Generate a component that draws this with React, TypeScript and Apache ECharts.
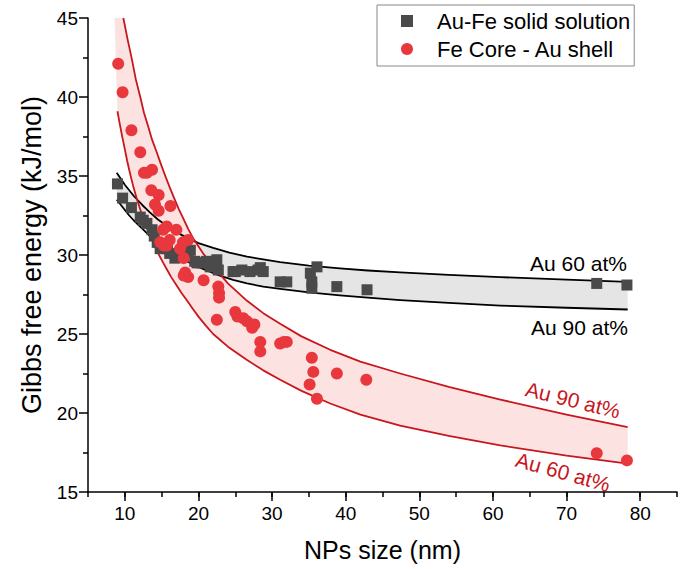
import React, { useEffect, useRef } from "react";
import * as echarts from "echarts";

const FONT = "'Liberation Sans', Arial, sans-serif";

// Au-Fe solid solution (squares)
const solidX = [9.0, 9.7, 10.9, 12.1, 12.5, 13.0, 13.7, 14.0, 14.4, 14.8, 15.3, 15.8, 16.1, 16.8, 17.0, 18.6, 18.9, 19.5, 19.8, 20.4, 21.1, 21.6, 22.5, 22.7, 24.7, 25.0, 25.9, 27.0, 28.1, 28.4, 28.8, 31.1, 32.0, 35.2, 35.4, 35.4, 36.1, 38.8, 42.9, 74.1, 78.2];
const solidY = [34.5, 33.6, 33.0, 32.4, 32.2, 32.0, 31.6, 31.2, 30.8, 30.4, 30.6, 30.4, 30.1, 29.8, 29.9, 30.1, 30.3, 29.6, 29.5, 29.5, 29.6, 29.25, 29.7, 29.05, 28.95, 28.95, 29.05, 28.95, 29.05, 29.2, 28.95, 28.3, 28.3, 28.85, 28.3, 27.9, 29.25, 28.0, 27.8, 28.2, 28.1];

// Fe Core - Au shell (circles)
const coreX = [9.1, 9.7, 10.9, 12.1, 12.6, 13.0, 13.7, 13.6, 14.6, 14.1, 14.6, 16.2, 15.2, 15.7, 17.0, 14.8, 15.3, 15.7, 16.1, 17.5, 17.9, 18.6, 18.0, 18.2, 18.6, 18.0, 20.7, 22.7, 22.8, 22.8, 22.5, 25.0, 25.3, 26.1, 26.6, 27.3, 27.6, 28.4, 28.4, 31.1, 31.6, 32.0, 35.4, 35.6, 35.1, 36.1, 38.8, 42.8, 74.1, 78.2];
const coreY = [42.1, 40.3, 37.9, 36.5, 35.2, 35.2, 35.4, 34.1, 33.8, 33.2, 32.8, 33.1, 31.6, 31.8, 31.6, 30.8, 30.6, 30.6, 30.95, 30.4, 30.8, 30.95, 29.8, 28.9, 28.6, 28.7, 28.4, 28.0, 27.6, 27.3, 25.9, 26.4, 26.1, 26.0, 25.8, 25.4, 25.6, 24.5, 23.9, 24.4, 24.5, 24.5, 23.5, 22.6, 21.8, 20.9, 22.5, 22.1, 17.45, 17.0];

// Black model curves (solid solution): Au 60 at% (upper), Au 90 at% (lower)
const blackUpX = [8.9, 9.5, 10.0, 10.6, 11.2, 11.8, 12.4, 13.4, 14.5, 15.7, 17.0, 18.4, 20.0, 22.0, 24.2, 26.6, 28.8, 31.1, 35.0, 39.2, 43.0, 47.4, 54.0, 61.0, 70.0, 78.3];
const blackUpY = [35.2, 34.8, 34.45, 34.1, 33.75, 33.45, 33.15, 32.7, 32.25, 31.85, 31.45, 31.1, 30.75, 30.45, 30.15, 29.9, 29.72, 29.55, 29.33, 29.15, 29.02, 28.9, 28.74, 28.6, 28.44, 28.3];
const blackLoX = [8.9, 9.5, 10.0, 10.6, 11.2, 11.8, 12.4, 13.4, 14.5, 15.7, 17.0, 18.0, 20.2, 22.9, 24.7, 26.6, 28.8, 31.1, 35.0, 39.2, 43.0, 47.4, 54.0, 61.0, 70.0, 78.3];
const blackLoY = [33.5, 33.15, 32.85, 32.5, 32.2, 31.92, 31.65, 31.2, 30.75, 30.35, 29.95, 29.7, 29.2, 28.7, 28.43, 28.2, 28.0, 27.85, 27.63, 27.45, 27.3, 27.15, 26.97, 26.8, 26.66, 26.55];

// Red model curves (core-shell): Au 90 at% (upper), Au 60 at% (lower)
const redUpX = [9.8, 10.4, 11.0, 11.5, 12.1, 12.6, 13.2, 13.7, 14.3, 14.9, 15.5, 16.1, 16.7, 17.3, 18.0, 18.6, 19.3, 20.6, 22.0, 24.0, 26.6, 28.8, 31.1, 34.0, 37.9, 42.0, 47.4, 54.0, 61.0, 70.0, 78.3];
const redUpY = [45.0, 43.6, 42.3, 41.1, 40.0, 39.0, 38.1, 37.3, 36.55, 35.75, 35.0, 34.28, 33.6, 32.93, 32.25, 31.65, 31.05, 30.12, 29.3, 28.2, 27.1, 26.32, 25.65, 24.85, 24.0, 23.25, 22.5, 21.65, 20.85, 19.9, 19.1];
const redLoX = [9.0, 9.3, 9.6, 10.0, 10.3, 10.6, 10.9, 11.2, 11.6, 12.1, 12.6, 13.1, 13.7, 14.2, 14.7, 15.2, 15.7, 16.3, 17.0, 17.7, 18.4, 19.2, 20.0, 21.0, 22.0, 24.0, 26.6, 28.8, 31.1, 34.0, 37.9, 42.0, 47.4, 54.0, 61.0, 70.0, 78.3];
const redLoY = [39.1, 38.33, 37.6, 36.7, 36.0, 35.38, 34.8, 34.25, 33.6, 32.88, 32.2, 31.6, 30.95, 30.44, 29.95, 29.52, 29.1, 28.6, 28.1, 27.6, 27.15, 26.62, 26.1, 25.53, 25.0, 24.2, 23.35, 22.7, 22.1, 21.4, 20.6, 19.9, 19.2, 18.55, 17.95, 17.3, 16.8];
const redFillCorner = [8.6, 45.0];

const xMajorTicks = [10, 20, 30, 40, 50, 60, 70, 80];

const zip = (xs: number[], ys: number[]) => xs.map((x, i) => [x, ys[i]]);

export default function App() {
  const ref = useRef<HTMLDivElement>(null);
  useEffect(() => {
    const chart = echarts.init(ref.current!, null, { renderer: "svg" });
    const grayBand = [...zip(blackUpX, blackUpY), ...zip(blackLoX, blackLoY).reverse()];
    const redBand = [...zip(redUpX, redUpY), ...zip(redLoX, redLoY).reverse(), redFillCorner];
    const bandSeries = (pts: number[][], fill: string) => ({
      type: "custom",
      silent: true,
      z: 1,
      clip: true,
      data: [[40, 30]],
      renderItem: (_p: any, api: any) => ({
        type: "polygon",
        shape: { points: pts.map((p) => api.coord(p)) },
        style: { fill, stroke: "none" },
      }),
    });
    const curve = (xs: number[], ys: number[], color: string) => ({
      type: "line",
      data: zip(xs, ys),
      smooth: false,
      showSymbol: false,
      symbol: "none",
      silent: true,
      z: 2,
      lineStyle: { color, width: 1.8, join: "round" },
    });
    const axisLineStyle = { color: "#000", width: 1.5 };
    chart.setOption({
      animation: false,
      backgroundColor: "#fff",
      textStyle: { fontFamily: FONT },
      grid: { left: 88, right: 6, top: 18, bottom: 77, containLabel: false },
      legend: {
        data: ["Au-Fe solid solution", "Fe Core - Au shell"],
        orient: "vertical",
        left: 377,
        top: 5,
        padding: [5, 4, 6, 24],
        itemGap: 6,
        itemWidth: 12,
        itemHeight: 12,
        borderColor: "#888",
        borderWidth: 1,
        textStyle: { fontSize: 22, color: "#000", fontFamily: FONT, padding: [0, 0, 0, 19] },
      },
      xAxis: [
        {
          type: "value",
          min: 5,
          max: 85,
          interval: 5,
          position: "bottom",
          axisLine: { show: true, lineStyle: axisLineStyle },
          axisTick: { show: true, length: 5, lineStyle: axisLineStyle },
          axisLabel: { show: false },
          splitLine: { show: false },
          name: "NPs size (nm)",
          nameLocation: "middle",
          nameGap: 45,
          nameTextStyle: { fontSize: 25, color: "#000", fontFamily: FONT },
        },
        {
          type: "value",
          min: 5,
          max: 85,
          position: "bottom",
          offset: 0,
          axisLine: { show: false },
          axisTick: { show: true, length: 9, customValues: xMajorTicks, lineStyle: axisLineStyle },
          axisLabel: { show: true, customValues: xMajorTicks, fontSize: 19, color: "#000", margin: 12, fontFamily: FONT },
          splitLine: { show: false },
        },
      ],
      yAxis: {
        type: "value",
        min: 15,
        max: 45,
        interval: 5,
        axisLine: { show: true, lineStyle: axisLineStyle },
        axisTick: { show: true, length: 9, lineStyle: axisLineStyle },
        minorTick: { show: true, splitNumber: 2, length: 5, lineStyle: axisLineStyle },
        axisLabel: { fontSize: 19, color: "#000", margin: 10, fontFamily: FONT },
        splitLine: { show: false },
        name: "Gibbs free energy (kJ/mol)",
        nameLocation: "middle",
        nameGap: 42,
        nameTextStyle: { fontSize: 27, color: "#000", fontFamily: FONT },
      },
      series: [
        bandSeries(grayBand, "#e5e5e5"),
        bandSeries(redBand, "#fde2e2"),
        curve(blackUpX, blackUpY, "#000"),
        curve(blackLoX, blackLoY, "#000"),
        curve(redUpX, redUpY, "#c8161d"),
        curve(redLoX, redLoY, "#c8161d"),
        {
          name: "Au-Fe solid solution",
          type: "scatter",
          symbol: "rect",
          symbolSize: 11,
          z: 3,
          itemStyle: { color: "#4a4a4a", opacity: 1 },
          data: zip(solidX, solidY),
        },
        {
          name: "Fe Core - Au shell",
          type: "scatter",
          symbol: "circle",
          symbolSize: 12,
          z: 4,
          itemStyle: { color: "#e8383d", opacity: 1 },
          data: zip(coreX, coreY),
        },
      ],
      graphic: [
        { type: "text", x: 627, y: 263, style: { text: "Au 60 at%", fontSize: 21, fontFamily: FONT, fill: "#000", align: "right", verticalAlign: "middle" } },
        { type: "text", x: 628, y: 327, style: { text: "Au 90 at%", fontSize: 21, fontFamily: FONT, fill: "#000", align: "right", verticalAlign: "middle" } },
        { type: "text", x: 573, y: 400, rotation: -0.24, style: { text: "Au 90 at%", fontSize: 21, fontFamily: FONT, fill: "#c8161d", align: "center", verticalAlign: "middle" } },
        { type: "text", x: 563, y: 472, rotation: -0.27, style: { text: "Au 60 at%", fontSize: 21, fontFamily: FONT, fill: "#c8161d", align: "center", verticalAlign: "middle" } },
      ],
    });
    return () => chart.dispose();
  }, []);
  return (
    <div
      ref={ref}
      style={{ position: "absolute", left: 0, top: 0, width: 683, height: 569, background: "#fff" }}
    />
  );
}
